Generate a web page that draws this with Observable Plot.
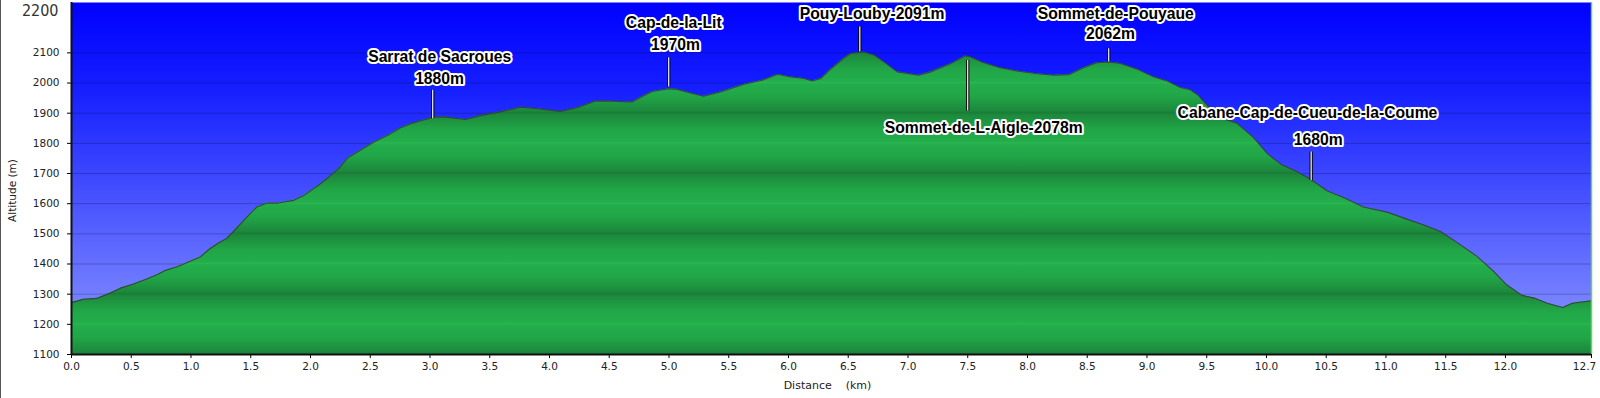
<!DOCTYPE html>
<html><head><meta charset="utf-8">
<script src="https://cdn.jsdelivr.net/npm/d3@7"></script>
<script src="https://cdn.jsdelivr.net/npm/@observablehq/plot@0.6"></script>
<style>
html,body{margin:0;padding:0;background:#fff;}
#chart{width:1600px;height:398px;overflow:hidden;}
</style></head><body><div id="chart"></div>
<script>
// ---- profile (distance km, altitude m) ----
const distanceKm = [0.00,0.10,0.21,0.33,0.41,0.52,0.63,0.72,0.78,0.89,0.97,1.08,1.15,1.22,1.30,1.36,1.47,1.55,1.64,1.73,1.86,1.94,2.07,2.15,2.24,2.31,2.40,2.54,2.66,2.75,2.85,2.93,3.03,3.13,3.30,3.42,3.62,3.76,3.90,4.09,4.23,4.38,4.51,4.69,4.78,4.86,5.00,5.07,5.18,5.29,5.43,5.63,5.78,5.91,6.02,6.13,6.20,6.27,6.35,6.46,6.52,6.63,6.72,6.80,6.91,7.09,7.19,7.36,7.48,7.52,7.63,7.77,7.91,8.08,8.22,8.35,8.47,8.58,8.68,8.78,8.92,9.06,9.17,9.28,9.36,9.43,9.53,9.64,9.75,9.89,10.01,10.12,10.27,10.37,10.51,10.65,10.81,11.01,11.18,11.34,11.46,11.60,11.76,11.90,12.01,12.14,12.24,12.35,12.48,12.56,12.72];
const altitudeM = [1272,1283,1286,1305,1320,1334,1350,1365,1378,1392,1405,1424,1448,1467,1485,1510,1556,1589,1602,1602,1611,1626,1662,1687,1718,1751,1773,1806,1829,1851,1867,1876,1887,1887,1879,1892,1907,1920,1915,1906,1918,1940,1940,1937,1956,1972,1981,1979,1967,1956,1970,1996,2009,2029,2020,2015,2007,2015,2045,2081,2098,2103,2092,2070,2037,2026,2037,2065,2090,2087,2068,2051,2040,2031,2026,2028,2051,2067,2070,2065,2046,2020,2007,1985,1978,1959,1915,1881,1868,1820,1765,1731,1703,1681,1642,1620,1589,1572,1548,1526,1507,1470,1426,1376,1331,1296,1287,1270,1256,1270,1278];

// ---- axes ----
const yTicks = [1100,1200,1300,1400,1500,1600,1700,1800,1900,2000,2100];
const yTickLabels = ["1100","1200","1300","1400","1500","1600","1700","1800","1900","2000","2100"];
const yTopLabel = ["2200"];
const xTicks = [0,0.5,1,1.5,2,2.5,3,3.5,4,4.5,5,5.5,6,6.5,7,7.5,8,8.5,9,9.5,10,10.5,11,11.5,12,12.72];
const xTickLabels = ["0.0","0.5","1.0","1.5","2.0","2.5","3.0","3.5","4.0","4.5","5.0","5.5","6.0","6.5","7.0","7.5","8.0","8.5","9.0","9.5","10.0","10.5","11.0","11.5","12.0","12.7"];
const xTitle = ["Distance\u00a0\u00a0\u00a0\u00a0(km)"];
const yTitle = ["Altitude (m)"];

// ---- waypoint markers (data units) ----
const markerDist   = [3.023, 4.998, 6.597, 7.50, 8.68, 10.374];
const markerTop    = [1976, 2084, 2186, 2075, 2114, 1771];
const markerBottom = [1882, 1987, 2103, 1907, 2070, 1677];

// ---- waypoint labels (data units) ----
const labelText = ["Sarrat de Sacroues","1880m","Cap-de-la-Lit","1970m","Pouy-Louby-2091m","Sommet-de-L-Aigle-2078m","Sommet-de-Pouyaue","2062m","Cabane-Cap-de-Cueu-de-la-Coume","1680m"];
const labelDist = [3.081,3.080,5.040,5.054,6.70,7.634,8.739,8.695,10.343,10.433];
const labelAlt  = [2086,2014,2199,2125,2228,1851,2228,2164,1902,1812];

const profile = distanceKm.map((d,i)=>({d, alt: altitudeM[i]}));
const markers = markerDist.map((d,i)=>({d, top: markerTop[i], bottom: markerBottom[i]}));
const labels = labelText.map((t,i)=>({t, d: labelDist[i], alt: labelAlt[i]}));
const yMin = 1100, yMax = 2267, xMax = 12.72;
const lastIdx = xTicks.length - 1;

const labelStyle = {fontFamily:"'Liberation Sans', Arial, sans-serif", fontWeight:"bold", fontSize:15.7, fill:"#000", stroke:"#fff", strokeWidth:4};

const plot = Plot.plot({
  width:1600, height:398,
  marginLeft:71, marginRight:9, marginTop:2, marginBottom:44,
  x:{domain:[0,xMax]},
  y:{domain:[yMin,yMax]},
  style:{fontFamily:"'DejaVu Sans', Verdana, sans-serif", fontSize:"10px", color:"#222", background:"#fff", overflow:"visible"},
  marks:[
    Plot.frame({fill:"url(#skyGrad)", stroke:null}),
    Plot.gridY(yTicks,{stroke:"#000", strokeOpacity:0.22, strokeWidth:1}),
    Plot.areaY(profile,{x:"d", y1:yMin, y2:"alt", fill:"url(#greenGrad)"}),
    Plot.lineY(profile,{x:"d", y:"alt", stroke:"#383838", strokeWidth:1.1, strokeOpacity:0.85}),
    Plot.ruleX([xMax],{stroke:"#6ccf6c", strokeWidth:1.5}),
    Plot.ruleX(markers,{x:"d", y1:"bottom", y2:"top", stroke:"#000", strokeWidth:3.2}),
    Plot.ruleX(markers,{x:"d", y1:"bottom", y2:"top", stroke:"#fff", strokeWidth:1.2}),
    Plot.text(labels,{x:"d", y:"alt", text:"t", ...labelStyle}),
    Plot.axisX({ticks:xTicks, tickFormat:(d)=>{const i = xTicks.indexOf(d); return i === lastIdx ? "" : xTickLabels[i];}, tickSize:4, tickPadding:4, fontSize:10.5, label:null, stroke:"#000"}),
    Plot.axisX({ticks:[xTicks[lastIdx]], tickFormat:()=>xTickLabels[lastIdx], tickSize:0, tickPadding:8, dx:-7, fontSize:10.5, label:null}),
    Plot.axisY({ticks:yTicks, tickFormat:(d)=>yTickLabels[yTicks.indexOf(d)], tickSize:4, tickPadding:8, fontSize:10.5, label:null, stroke:"#000"}),
    Plot.ruleX([0],{stroke:"#111", strokeWidth:2}),
    Plot.ruleY([yMin],{stroke:"#111", strokeWidth:2}),
    Plot.text(yTopLabel,{frameAnchor:"top-left", dx:-13, dy:8, textAnchor:"end", lineAnchor:"middle", fontFamily:"'Liberation Sans Narrow', 'DejaVu Sans Condensed', sans-serif", fontSize:16, fill:"#333"}),
    Plot.text(xTitle,{frameAnchor:"bottom", dx:-4, dy:31, textAnchor:"middle", lineAnchor:"middle", fontSize:11, fill:"#222"}),
    Plot.text(yTitle,{frameAnchor:"left", rotate:-90, dx:-59, dy:12, textAnchor:"middle", lineAnchor:"middle", fontSize:10.5, fill:"#222"})
  ]
});

document.getElementById("chart").appendChild(plot);

// gradients (positions derived from the y scale)
const ys = plot.scale("y");
const svg = d3.select(plot);
const defs = svg.insert("defs", ":first-child");
const sky = defs.append("linearGradient").attr("id","skyGrad").attr("x1",0).attr("y1",0).attr("x2",0).attr("y2",1);
sky.append("stop").attr("offset",0).attr("stop-color","#0000ff");
sky.append("stop").attr("offset",0.25).attr("stop-color","#1620ff");
sky.append("stop").attr("offset",1).attr("stop-color","#8e9aff");
const g = defs.append("linearGradient").attr("id","greenGrad")
  .attr("gradientUnits","userSpaceOnUse").attr("spreadMethod","reflect")
  .attr("x1",0).attr("x2",0)
  .attr("y1", ys.apply(yMin)).attr("y2", ys.apply(yMin+100));
g.append("stop").attr("offset",0).attr("stop-color","#1a7c37");
g.append("stop").attr("offset",0.06).attr("stop-color","#1c883c");
g.append("stop").attr("offset",0.55).attr("stop-color","#21a647");
g.append("stop").attr("offset",0.95).attr("stop-color","#23ad4b");
g.append("stop").attr("offset",1).attr("stop-color","#2bb552");
// image left border
svg.append("line").attr("x1",0.5).attr("x2",0.5).attr("y1",0).attr("y2",398).attr("stroke","#555").attr("stroke-width",1);
</script></body></html>
